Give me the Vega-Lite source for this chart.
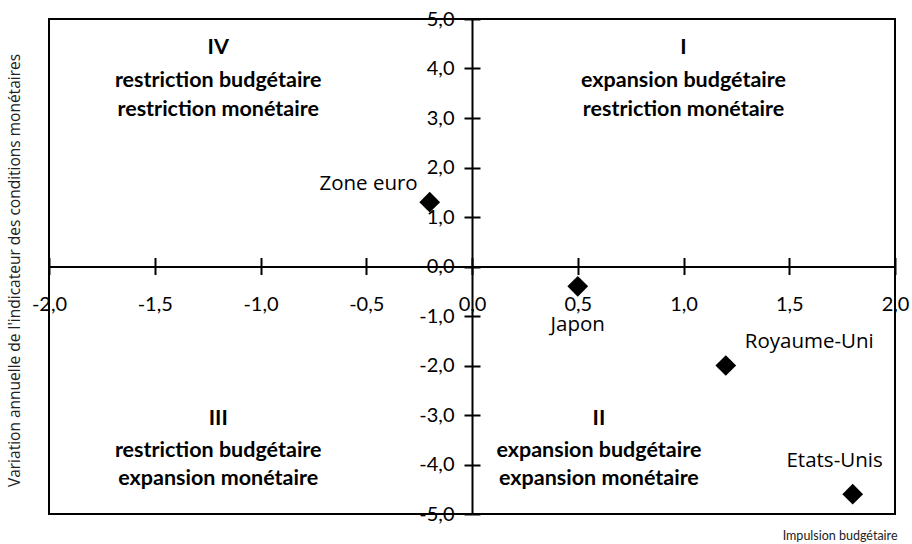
{
  "$schema": "https://vega.github.io/schema/vega-lite/v6.json",
  "autosize": "none",
  "width": 846,
  "height": 495,
  "padding": {"left": 49, "top": 19, "right": 17, "bottom": 30},
  "background": "white",
  "config": {
    "view": {"stroke": "black", "strokeWidth": 2},
    "font": "Lato",
    "axis": {"grid": false, "domainColor": "black", "tickColor": "black", "labelColor": "black", "titleColor": "#222"}
  },
  "datasets": {
    "pts": [
      {"pays": "Zone euro", "impulsion": -0.2, "icm": 1.3},
      {"pays": "Japon", "impulsion": 0.5, "icm": -0.4},
      {"pays": "Royaume-Uni", "impulsion": 1.2, "icm": -2.0},
      {"pays": "Etats-Unis", "impulsion": 1.8, "icm": -4.6}
    ],
    "quad": [
      {"qx": -1.2, "qy": 4.42, "t": "IV"},
      {"qx": -1.2, "qy": 3.75, "t": "restriction budgétaire"},
      {"qx": -1.2, "qy": 3.16, "t": "restriction monétaire"},
      {"qx": 1.0, "qy": 4.42, "t": "I"},
      {"qx": 1.0, "qy": 3.75, "t": "expansion budgétaire"},
      {"qx": 1.0, "qy": 3.16, "t": "restriction monétaire"},
      {"qx": -1.2, "qy": -3.08, "t": "III"},
      {"qx": -1.2, "qy": -3.72, "t": "restriction budgétaire"},
      {"qx": -1.2, "qy": -4.3, "t": "expansion monétaire"},
      {"qx": 0.6, "qy": -3.08, "t": "II"},
      {"qx": 0.6, "qy": -3.72, "t": "expansion budgétaire"},
      {"qx": 0.6, "qy": -4.3, "t": "expansion monétaire"}
    ]
  },
  "layer": [
    {
      "data": {"name": "pts"},
      "mark": {"type": "point", "shape": "diamond", "filled": true, "color": "black", "size": 430, "opacity": 1},
      "encoding": {
        "x": {
          "field": "impulsion", "type": "quantitative",
          "scale": {"domain": [-2, 2], "nice": false, "zero": false},
          "axis": {
            "orient": "bottom", "offset": -247.5,
            "values": [-2, -1.5, -1, -0.5, 0, 0.5, 1, 1.5, 2],
            "labelExpr": "(datum.value < 0 ? '-' : '') + replace(format(abs(datum.value), '.1f'), '.', ',')",
            "labelFontSize": 20, "labelFont": "Lato", "labelPadding": 20,
            "labelFlush": false, "labelOverlap": false, "labelBound": false,
            "tickSize": 8, "tickWidth": 2, "domainWidth": 2,
            "title": "Impulsion budgétaire", "titleFont": "Lato", "titleFontSize": 12.5, "titleFontWeight": "normal",
            "titleX": 848, "titleY": 268.5, "titleAlign": "right", "titleAnchor": "end", "titleBaseline": "middle"
          }
        },
        "y": {
          "field": "icm", "type": "quantitative",
          "scale": {"domain": [-5, 5], "nice": false, "zero": false},
          "axis": {
            "orient": "left", "offset": -423,
            "values": [-5, -4, -3, -2, -1, 0, 1, 2, 3, 4, 5],
            "labelExpr": "(datum.value < 0 ? '-' : '') + replace(format(abs(datum.value), '.1f'), '.', ',')",
            "labelFontSize": 20, "labelFont": "Lato", "labelPadding": 10,
            "labelFlush": false, "labelOverlap": false, "labelBound": false,
            "tickSize": 8, "tickWidth": 2, "domainWidth": 2,
            "title": "Variation annuelle de l'indicateur des conditions monétaires",
            "titleFont": "Open Sans", "titleFontSize": 15.5, "titleFontWeight": "normal",
            "titleX": -458, "titleY": 251, "titleAngle": -90, "titleAlign": "center", "titleBaseline": "middle"
          }
        }
      }
    },
    {
      "data": {"name": "pts"},
      "mark": {"type": "point", "opacity": 0},
      "encoding": {
        "x": {
          "field": "impulsion", "type": "quantitative",
          "axis": {
            "orient": "top", "offset": -247.5,
            "values": [-2, -1.5, -1, -0.5, 0, 0.5, 1, 1.5, 2],
            "labels": false, "domain": false, "tickSize": 9, "tickWidth": 2, "title": null
          }
        },
        "y": {
          "field": "icm", "type": "quantitative",
          "axis": {
            "orient": "right", "offset": -423,
            "values": [-5, -4, -3, -2, -1, 0, 1, 2, 3, 4, 5],
            "labels": false, "domain": false, "tickSize": 8, "tickWidth": 2, "title": null
          }
        }
      }
    },
    {
      "data": {"name": "quad"},
      "mark": {"type": "text", "font": "Lato", "fontSize": 21.5, "fontWeight": "bold", "color": "black", "align": "center", "baseline": "middle"},
      "encoding": {
        "x": {"field": "qx", "type": "quantitative", "axis": null},
        "y": {"field": "qy", "type": "quantitative", "axis": null},
        "text": {"field": "t"}
      }
    },
    {
      "data": {"name": "pts"},
      "transform": [{"filter": "datum.pays === 'Zone euro'"}],
      "mark": {"type": "text", "font": "Open Sans", "fontSize": 20.5, "color": "black", "align": "right", "baseline": "middle", "dx": -12, "dy": -18},
      "encoding": {
        "x": {"field": "impulsion", "type": "quantitative", "axis": null},
        "y": {"field": "icm", "type": "quantitative", "axis": null},
        "text": {"field": "pays"}
      }
    },
    {
      "data": {"name": "pts"},
      "transform": [{"filter": "datum.pays === 'Japon'"}],
      "mark": {"type": "text", "font": "Open Sans", "fontSize": 20.5, "color": "black", "align": "center", "baseline": "middle", "dx": 0, "dy": 39},
      "encoding": {
        "x": {"field": "impulsion", "type": "quantitative", "axis": null},
        "y": {"field": "icm", "type": "quantitative", "axis": null},
        "text": {"field": "pays"}
      }
    },
    {
      "data": {"name": "pts"},
      "transform": [{"filter": "datum.pays === 'Royaume-Uni'"}],
      "mark": {"type": "text", "font": "Open Sans", "fontSize": 20.5, "color": "black", "align": "left", "baseline": "middle", "dx": 19, "dy": -24},
      "encoding": {
        "x": {"field": "impulsion", "type": "quantitative", "axis": null},
        "y": {"field": "icm", "type": "quantitative", "axis": null},
        "text": {"field": "pays"}
      }
    },
    {
      "data": {"name": "pts"},
      "transform": [{"filter": "datum.pays === 'Etats-Unis'"}],
      "mark": {"type": "text", "font": "Open Sans", "fontSize": 20.5, "color": "black", "align": "right", "baseline": "middle", "dx": 30, "dy": -33},
      "encoding": {
        "x": {"field": "impulsion", "type": "quantitative", "axis": null},
        "y": {"field": "icm", "type": "quantitative", "axis": null},
        "text": {"field": "pays"}
      }
    }
  ],
  "resolve": {"axis": {"x": "independent", "y": "independent"}}
}
